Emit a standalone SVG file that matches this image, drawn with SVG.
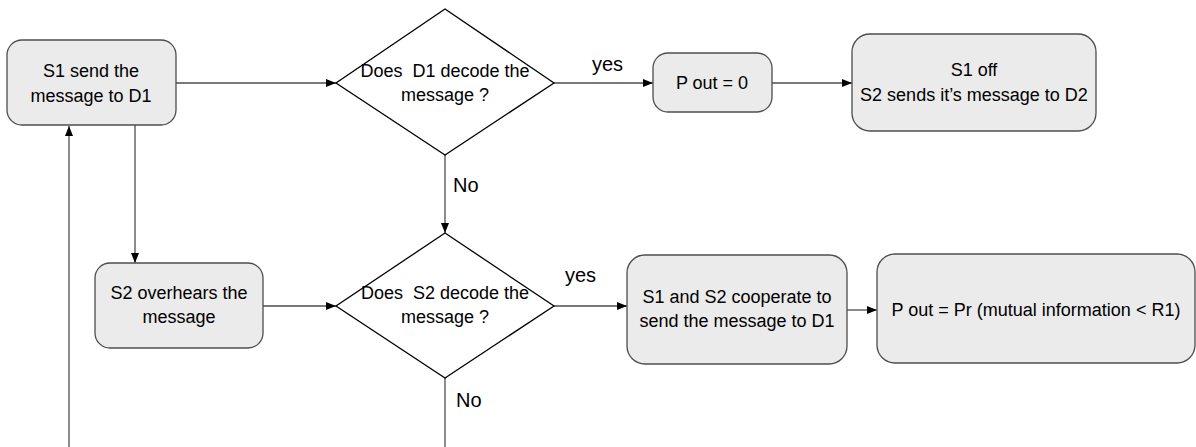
<svg xmlns="http://www.w3.org/2000/svg" width="1196" height="447" viewBox="0 0 1196 447">
<defs>
<style>
.box{fill:#ebebeb;stroke:#4d4d4d;stroke-width:1.3}
.dia{fill:#ffffff;stroke:#000000;stroke-width:1.3}
.t{font-family:"Liberation Sans",Arial,sans-serif;font-size:18px;fill:#000;text-anchor:middle;white-space:pre}
.lbl{font-family:"Liberation Sans",Arial,sans-serif;font-size:20px;fill:#000}
.c{fill:none;stroke:#4d4d4d;stroke-width:1.3}
</style>
<marker id="arr" viewBox="0 0 10 8" refX="10" refY="4" markerWidth="10" markerHeight="8" markerUnits="userSpaceOnUse" orient="auto">
<path d="M0,0 L10,4 L0,8 z" fill="#000"/>
</marker>
</defs>
<rect width="1196" height="447" fill="#ffffff"/>
<g id="connectors">
<line class="c" x1="176" y1="83" x2="336" y2="83" marker-end="url(#arr)"/>
<line class="c" x1="554" y1="83" x2="653" y2="83" marker-end="url(#arr)"/>
<line class="c" x1="772" y1="83" x2="852" y2="83" marker-end="url(#arr)"/>
<line class="c" x1="445" y1="155" x2="445" y2="233" marker-end="url(#arr)"/>
<line class="c" x1="135" y1="125" x2="135" y2="263" marker-end="url(#arr)"/>
<line class="c" x1="263" y1="306" x2="336" y2="306" marker-end="url(#arr)"/>
<line class="c" x1="554" y1="306" x2="627" y2="306" marker-end="url(#arr)"/>
<line class="c" x1="847" y1="310" x2="877" y2="310" marker-end="url(#arr)"/>
<line class="c" x1="445" y1="378" x2="445" y2="447"/>
<line class="c" x1="69" y1="447" x2="69" y2="126" marker-end="url(#arr)"/>
<text class="lbl" x="592" y="71">yes</text>
<text class="lbl" x="453" y="192">No</text>
<text class="lbl" x="565" y="282">yes</text>
<text class="lbl" x="456" y="407">No</text>
</g>
<g id="n-s1send">
<rect class="box" x="7" y="40" width="169" height="85" rx="15"/>
<text class="t" x="91" y="77">S1 send the</text>
<text class="t" x="91" y="102">message to D1</text>
</g>
<g id="n-d1decode">
<polygon class="dia" points="445,9 554,83 445,155 336,83"/>
<text class="t" x="445" y="77" xml:space="preserve">Does  D1 decode the</text>
<text class="t" x="445" y="101">message ?</text>
</g>
<g id="n-pout0">
<rect class="box" x="653" y="53" width="119" height="59" rx="15"/>
<text class="t" x="712" y="89">P out = 0</text>
</g>
<g id="n-s1off">
<rect class="box" x="852" y="34" width="244" height="97" rx="18"/>
<text class="t" x="974" y="76">S1 off</text>
<text class="t" x="974" y="101">S2 sends it’s message to D2</text>
</g>
<g id="n-s2over">
<rect class="box" x="95" y="263" width="168" height="85" rx="15"/>
<text class="t" x="179" y="299">S2 overhears the</text>
<text class="t" x="179" y="323">message</text>
</g>
<g id="n-s2decode">
<polygon class="dia" points="445,233 554,306 445,378 336,306"/>
<text class="t" x="445" y="299" xml:space="preserve">Does  S2 decode the</text>
<text class="t" x="445" y="323">message ?</text>
</g>
<g id="n-coop">
<rect class="box" x="627" y="255" width="220" height="109" rx="18"/>
<text class="t" x="737" y="303">S1 and S2 cooperate to</text>
<text class="t" x="737" y="327">send the message to D1</text>
</g>
<g id="n-poutpr">
<rect class="box" x="877" y="254" width="318" height="109" rx="18"/>
<text class="t" x="1036" y="316">P out = Pr (mutual information &lt; R1)</text>
</g>
</svg>
